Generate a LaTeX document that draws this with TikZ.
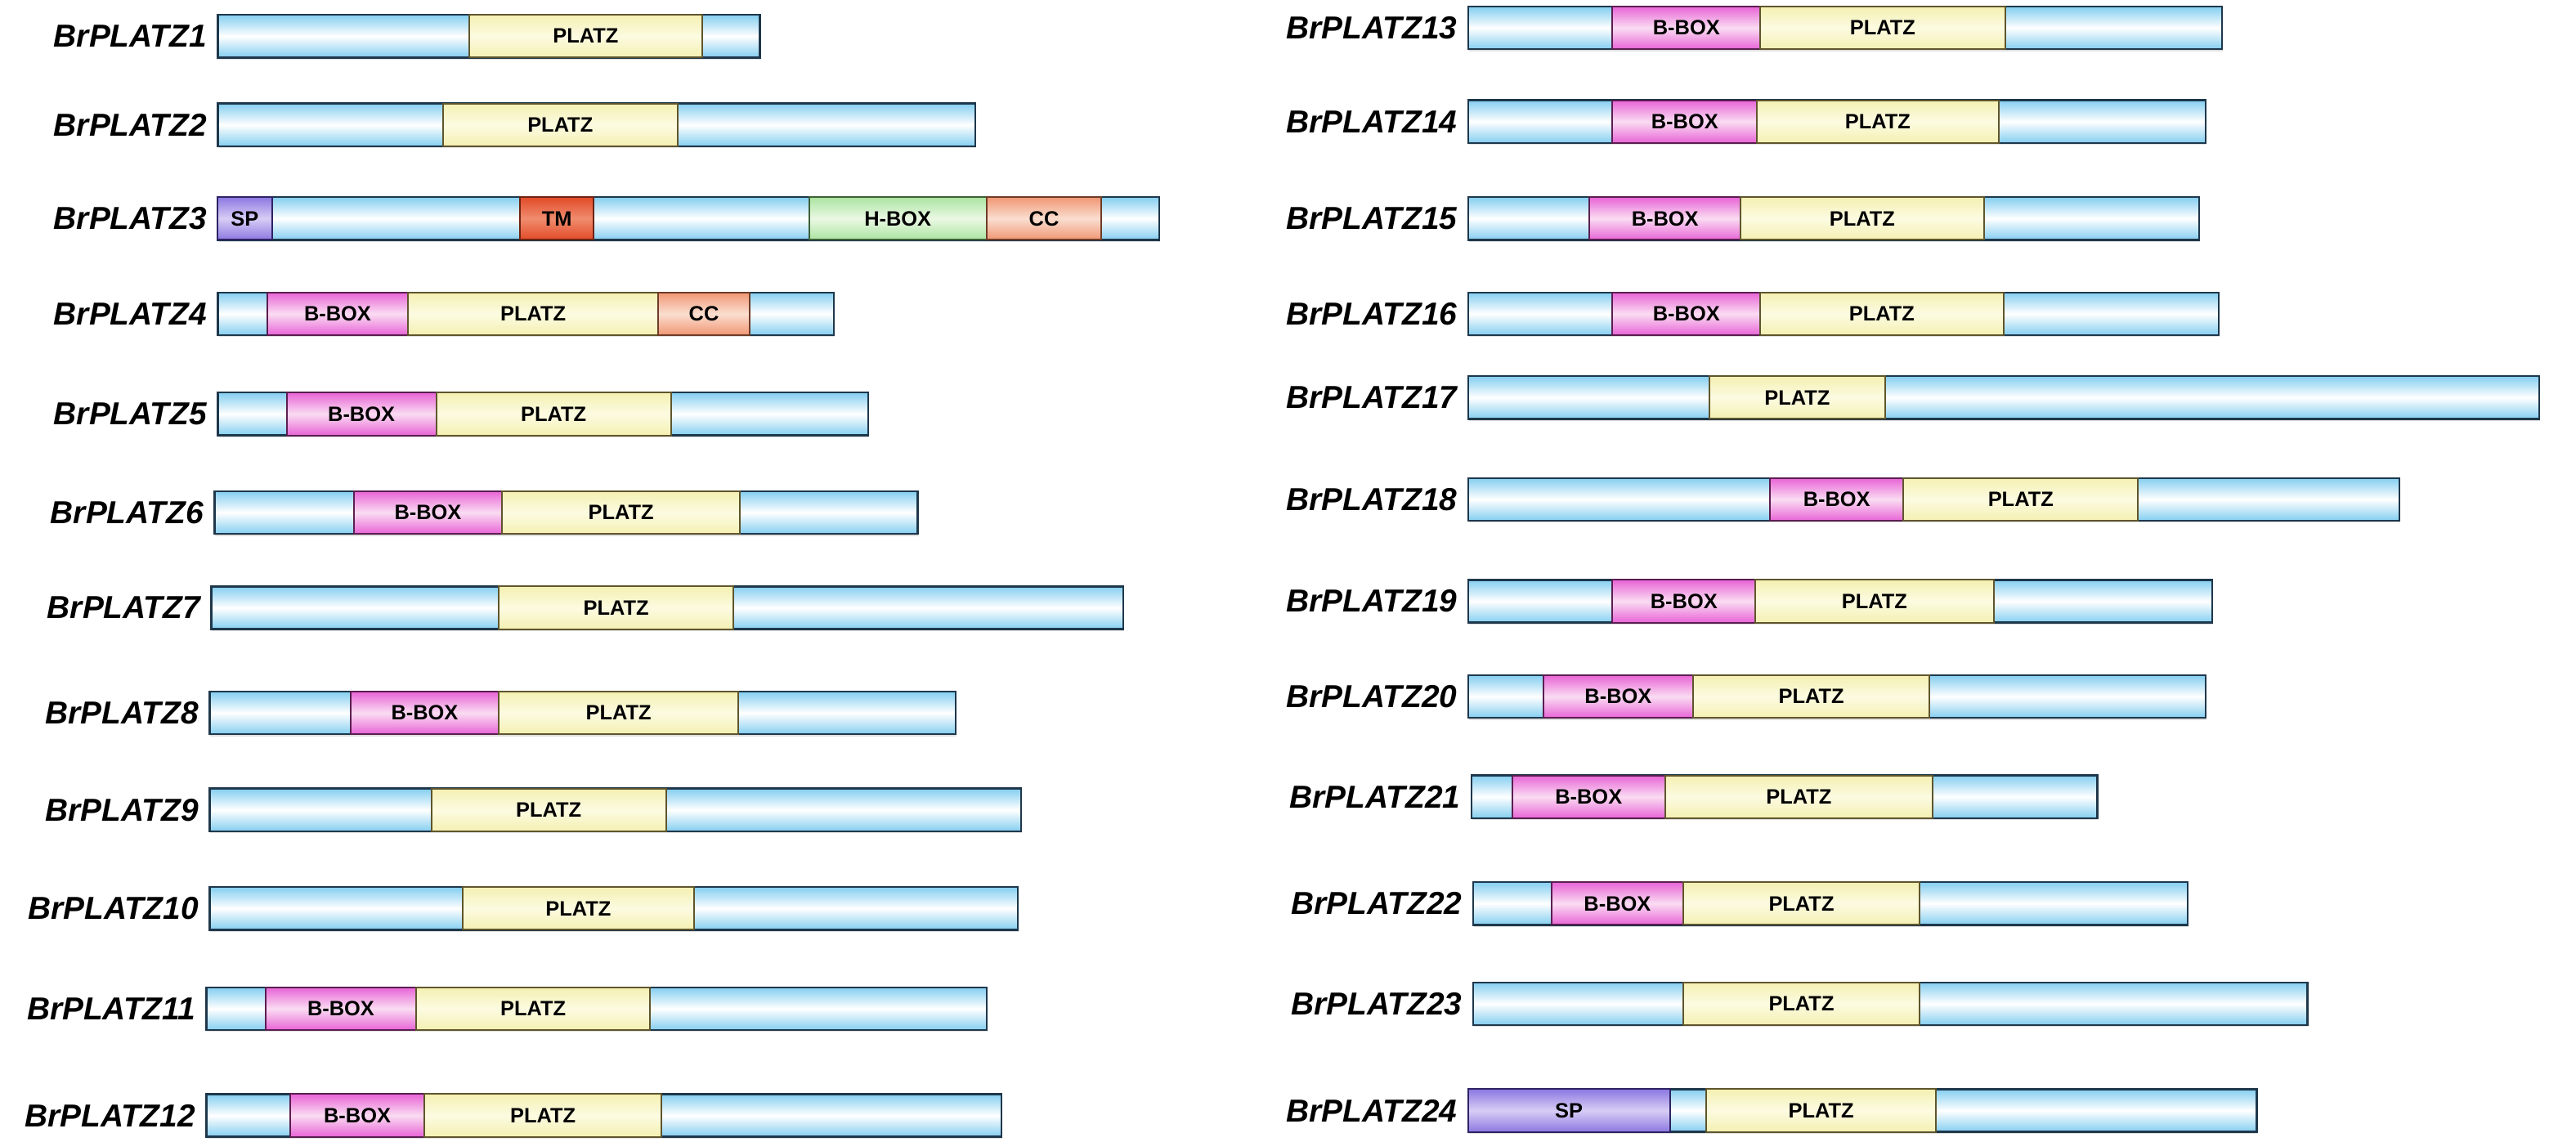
\documentclass[tikz,border=0pt]{standalone}
\usepackage{fontspec}
\setmainfont{Liberation Sans}
\usetikzlibrary{shadows}
\definecolor{bblue}{RGB}{132,206,240}
\definecolor{bline}{RGB}{30,55,75}
\definecolor{pyel}{RGB}{244,240,178}
\definecolor{pyelm}{RGB}{252,251,225}
\definecolor{pyline}{RGB}{95,85,45}
\definecolor{bmag}{RGB}{232,100,214}
\definecolor{bmagm}{RGB}{250,220,242}
\definecolor{bmline}{RGB}{90,30,80}
\definecolor{spur}{RGB}{140,120,225}
\definecolor{spurm}{RGB}{215,205,245}
\definecolor{spline}{RGB}{45,35,100}
\definecolor{tmred}{RGB}{225,75,40}
\definecolor{tmredm}{RGB}{240,140,110}
\definecolor{tmline}{RGB}{110,35,20}
\definecolor{hgr}{RGB}{170,228,160}
\definecolor{hgrm}{RGB}{235,248,228}
\definecolor{hgline}{RGB}{60,95,55}
\definecolor{ccs}{RGB}{240,150,115}
\definecolor{ccsm}{RGB}{250,222,208}
\definecolor{ccline}{RGB}{110,60,40}
\tikzset{
  x=0.5mm, y=-0.5mm,
  protbar/.style={rectangle, inner sep=0pt, minimum height=13mm, anchor=west,
    draw=bline, line width=0.6mm, top color=bblue, bottom color=bblue, middle color=white,
    drop shadow={shadow xshift=0.2mm, shadow yshift=-0.6mm, opacity=0.25}},
  dombase/.style={rectangle, inner sep=0pt, minimum height=13mm, anchor=west, line width=0.5mm,
    font=\bfseries\fontsize{18}{20}\selectfont},
  platz/.style={dombase, draw=pyline, top color=pyel, bottom color=pyel, middle color=pyelm},
  bbox/.style={dombase, draw=bmline, top color=bmag, bottom color=bmag, middle color=bmagm},
  spbox/.style={dombase, draw=spline, top color=spur, bottom color=spur, middle color=spurm},
  tmbox/.style={dombase, draw=tmline, top color=tmred, bottom color=tmred, middle color=tmredm},
  hbox/.style={dombase, draw=hgline, top color=hgr, bottom color=hgr, middle color=hgrm},
  ccbox/.style={dombase, draw=ccline, top color=ccs, bottom color=ccs, middle color=ccsm},
  lab/.style={anchor=east, inner sep=0pt, font=\bfseries\itshape\fontsize{27.5}{30}\selectfont}
}
\newcommand{\prot}[4]{%
  \node[protbar, minimum width={(#4-#3)*0.5mm}] (p#1) at (#3,#2) {};
  \node[lab] (l#1) at (#3-6,#2) {BrPLATZ#1};
}
\newcommand{\dom}[6]{%
  \node[#2, minimum width={(#5-#4)*0.5mm}] (#1) at (#4,#3) {#6};
}
\begin{document}
\begin{tikzpicture}
\useasboundingbox[fill=white] (0,0) rectangle (1568,695);
% left column
\prot{1}{22}{132}{462}
\dom{d1a}{platz}{22}{285}{427}{PLATZ}
\prot{2}{76}{132}{593}
\dom{d2a}{platz}{76}{269}{412}{PLATZ}
\prot{3}{133}{132}{705}
\dom{d3a}{spbox}{133}{132}{165}{SP}
\dom{d3b}{tmbox}{133}{316}{361}{TM}
\dom{d3c}{hbox}{133}{492}{600}{H-BOX}
\dom{d3d}{ccbox}{133}{600}{670}{CC}
\prot{4}{191}{132}{507}
\dom{d4a}{bbox}{191}{162}{248}{B-BOX}
\dom{d4b}{platz}{191}{248}{400}{PLATZ}
\dom{d4c}{ccbox}{191}{400}{456}{CC}
\prot{5}{252}{132}{528}
\dom{d5a}{bbox}{252}{174}{265}{B-BOX}
\dom{d5b}{platz}{252}{265}{408}{PLATZ}
\prot{6}{312}{130}{558}
\dom{d6a}{bbox}{312}{215}{305}{B-BOX}
\dom{d6b}{platz}{312}{305}{450}{PLATZ}
\prot{7}{370}{128}{683}
\dom{d7a}{platz}{370}{303}{446}{PLATZ}
\prot{8}{434}{127}{581}
\dom{d8a}{bbox}{434}{213}{303}{B-BOX}
\dom{d8b}{platz}{434}{303}{449}{PLATZ}
\prot{9}{493}{127}{621}
\dom{d9a}{platz}{493}{262}{405}{PLATZ}
\prot{10}{553}{127}{619}
\dom{d10a}{platz}{553}{281}{422}{PLATZ}
\prot{11}{614}{125}{600}
\dom{d11a}{bbox}{614}{161}{253}{B-BOX}
\dom{d11b}{platz}{614}{253}{395}{PLATZ}
\prot{12}{679}{125}{609}
\dom{d12a}{bbox}{679}{176}{258}{B-BOX}
\dom{d12b}{platz}{679}{258}{402}{PLATZ}
% right column
\prot{13}{17}{893}{1352}
\dom{d13a}{bbox}{17}{981}{1071}{B-BOX}
\dom{d13b}{platz}{17}{1071}{1220}{PLATZ}
\prot{14}{74}{893}{1342}
\dom{d14a}{bbox}{74}{981}{1069}{B-BOX}
\dom{d14b}{platz}{74}{1069}{1216}{PLATZ}
\prot{15}{133}{893}{1338}
\dom{d15a}{bbox}{133}{967}{1059}{B-BOX}
\dom{d15b}{platz}{133}{1059}{1207}{PLATZ}
\prot{16}{191}{893}{1350}
\dom{d16a}{bbox}{191}{981}{1071}{B-BOX}
\dom{d16b}{platz}{191}{1071}{1219}{PLATZ}
\prot{17}{242}{893}{1545}
\dom{d17a}{platz}{242}{1040}{1147}{PLATZ}
\prot{18}{304}{893}{1460}
\dom{d18a}{bbox}{304}{1077}{1158}{B-BOX}
\dom{d18b}{platz}{304}{1158}{1301}{PLATZ}
\prot{19}{366}{893}{1346}
\dom{d19a}{bbox}{366}{981}{1068}{B-BOX}
\dom{d19b}{platz}{366}{1068}{1213}{PLATZ}
\prot{20}{424}{893}{1342}
\dom{d20a}{bbox}{424}{939}{1030}{B-BOX}
\dom{d20b}{platz}{424}{1030}{1174}{PLATZ}
\prot{21}{485}{895}{1276}
\dom{d21a}{bbox}{485}{920}{1013}{B-BOX}
\dom{d21b}{platz}{485}{1013}{1176}{PLATZ}
\prot{22}{550}{896}{1331}
\dom{d22a}{bbox}{550}{944}{1024}{B-BOX}
\dom{d22b}{platz}{550}{1024}{1168}{PLATZ}
\prot{23}{611}{896}{1404}
\dom{d23a}{platz}{611}{1024}{1168}{PLATZ}
\prot{24}{676}{893}{1373}
\dom{d24a}{spbox}{676}{893}{1016}{SP}
\dom{d24b}{platz}{676}{1038}{1178}{PLATZ}
\end{tikzpicture}
\end{document}
